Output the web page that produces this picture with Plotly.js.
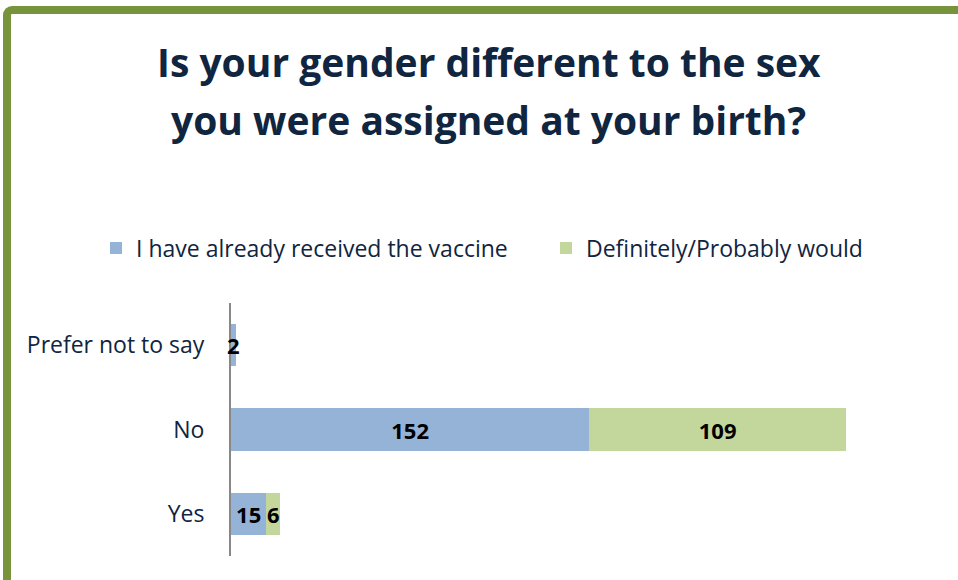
<!DOCTYPE html>
<html>
<head>
<meta charset="utf-8">
<script src="https://cdn.plot.ly/plotly-3.0.1.min.js"></script>
<style>
  html, body { margin: 0; padding: 0; background: #fff; overflow: hidden; }
  #wrap { position: relative; width: 958px; height: 580px; }
  #chart { width: 958px; height: 580px; }
  #frame {
    position: absolute; left: 3px; top: 6px; width: 980px; height: 600px;
    border-top: 8px solid #77933C; border-left: 8px solid #77933C;
    border-top-left-radius: 9px; box-sizing: border-box; pointer-events: none;
  }
</style>
</head>
<body>
<div id="wrap">
  <div id="chart"></div>
  <div id="frame"></div>
</div>
<script>
const titleLines = ["Is your gender different to the sex", "you were assigned at your birth?"];
const categories = ["Yes", "No", "Prefer not to say"];
const seriesNames = ["I have already received the vaccine", "Definitely/Probably would"];
const receivedValues = [15, 152, 2];
const wouldValues = [6, 109, null];
const seriesColors = ["#95B3D7", "#C3D69B"];

const navy = "#10253F";
const font = "'Open Sans', 'Noto Sans', sans-serif";

function mkTrace(name, vals, color, legendId) {
  return {
    type: "bar", orientation: "h", name: name, legend: legendId,
    y: categories, x: vals,
    marker: { color: color, line: { width: 0 } },
    text: vals.map(v => v == null ? "" : String(v)),
    textposition: "inside", insidetextanchor: "middle",
    constraintext: "none", textangle: 0,
    textfont: { family: font, size: 22, color: "#000", weight: "bold" },
    hoverinfo: "none", cliponaxis: false
  };
}

const data = [
  mkTrace(seriesNames[0], receivedValues, seriesColors[0], "legend"),
  mkTrace(seriesNames[1], wouldValues, seriesColors[1], "legend2")
];

function legendAt(xpx) {
  return {
    orientation: "h", xref: "container", yref: "container",
    x: xpx / 958, y: 1 - 248 / 580, xanchor: "left", yanchor: "middle",
    font: { family: font, size: 23, color: navy },
    bgcolor: "rgba(0,0,0,0)"
  };
}

const layout = {
  width: 958, height: 580,
  margin: { l: 231, r: 20, t: 303, b: 24 },
  paper_bgcolor: "#fff", plot_bgcolor: "#fff",
  barmode: "stack", bargap: 0.5,
  showlegend: true,
  legend: legendAt(96),
  legend2: legendAt(546),
  xaxis: { visible: false, range: [0, 300], fixedrange: true },
  yaxis: {
    categoryorder: "array", categoryarray: categories,
    showline: true, linecolor: "#888888", linewidth: 2,
    layer: "below traces",
    ticks: "", showgrid: false, zeroline: false,
    ticklabelstandoff: 20,
    tickfont: { family: font, size: 23, color: navy },
    fixedrange: true
  },
  annotations: [
    { text: titleLines[0], xref: "paper", yref: "paper", x: (489 - 231) / 707, y: (556 - 61) / 253,
      xanchor: "center", yanchor: "middle", showarrow: false,
      font: { family: font, size: 39, color: navy, weight: "bold" } },
    { text: titleLines[1], xref: "paper", yref: "paper", x: (488 - 231) / 707, y: (556 - 119) / 253,
      xanchor: "center", yanchor: "middle", showarrow: false,
      font: { family: font, size: 39, color: navy, weight: "bold" } }
  ]
};

Plotly.newPlot("chart", data, layout, { staticPlot: true, displayModeBar: false });
</script>
</body>
</html>
